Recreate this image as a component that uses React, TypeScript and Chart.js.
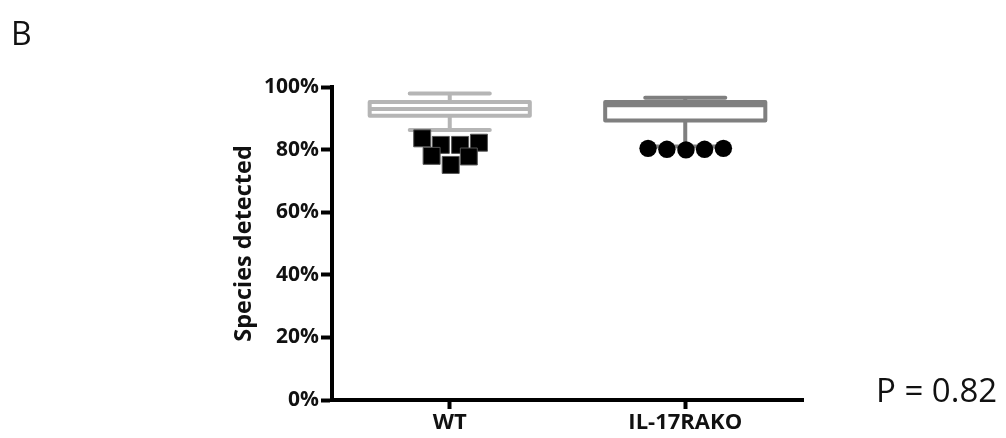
import React, { useEffect, useRef } from "react";
import { Chart, registerables } from "chart.js";

Chart.register(...registerables);

const categories = ["WT", "IL-17RAKO"];
const yTicks = [0, 20, 40, 60, 80, 100];
// box summary values (%) per category
const boxMin = [86.3, 81];
const boxQ1 = [90.8, 89.3];
const boxMedian = [93, 94.2];
const boxQ3 = [95.2, 95.2];
const boxMax = [97.9, 96.6];
const boxColors = ["#b5b5b5", "#7f7f7f"];
// outlier points: x = category index + jitter, y = %
const wtPointsX = [-0.117, -0.038, 0.044, 0.124, -0.077, 0.081, 0.004];
const wtPointsY = [83.6, 81.5, 81.5, 82.2, 78.0, 77.8, 75.1];
const koPointsX = [-0.158, -0.078, 0.003, 0.082, 0.162];
const koPointsY = [80.4, 80.1, 79.9, 80.1, 80.4];

const boxPlugin = {
  id: "boxes",
  beforeDatasetsDraw(chart: any) {
    const { ctx, scales } = chart;
    const xs = scales.x;
    const ys = scales.y;
    categories.forEach((_, i) => {
      const cx = xs.getPixelForValue(i);
      const halfBox = xs.getPixelForValue(i + 0.34) - cx;
      const halfCap = xs.getPixelForValue(i + 0.17) - cx;
      const yMin = ys.getPixelForValue(boxMin[i]);
      const yQ1 = ys.getPixelForValue(boxQ1[i]);
      const yMed = ys.getPixelForValue(boxMedian[i]);
      const yQ3 = ys.getPixelForValue(boxQ3[i]);
      const yMax = ys.getPixelForValue(boxMax[i]);
      ctx.save();
      ctx.strokeStyle = boxColors[i];
      ctx.lineWidth = 4;
      ctx.lineJoin = "round";
      ctx.lineCap = "round";
      ctx.beginPath();
      ctx.rect(cx - halfBox, yQ3, halfBox * 2, yQ1 - yQ3);
      ctx.moveTo(cx - halfBox, yMed);
      ctx.lineTo(cx + halfBox, yMed);
      ctx.moveTo(cx, yQ3);
      ctx.lineTo(cx, yMax);
      ctx.moveTo(cx - halfCap, yMax);
      ctx.lineTo(cx + halfCap, yMax);
      ctx.moveTo(cx, yQ1);
      ctx.lineTo(cx, yMin);
      ctx.moveTo(cx - halfCap, yMin);
      ctx.lineTo(cx + halfCap, yMin);
      ctx.stroke();
      ctx.restore();
    });
  },
};

export default function App() {
  const ref = useRef<HTMLCanvasElement | null>(null);
  useEffect(() => {
    if (!ref.current) return;
    const font = "'Open Sans'";
    const chart = new Chart(ref.current, {
      type: "scatter",
      data: {
        datasets: [
          {
            data: wtPointsX.map((x, i) => ({ x, y: wtPointsY[i] })),
            pointStyle: "rect",
            pointRadius: 12,
            backgroundColor: "#000",
            borderColor: "#555",
            borderWidth: 1,
          },
          {
            data: koPointsX.map((x, i) => ({ x: x + 1, y: koPointsY[i] })),
            pointStyle: "circle",
            pointRadius: 8.7,
            backgroundColor: "#000",
            borderColor: "#000",
            borderWidth: 0,
          },
        ],
      },
      options: {
        animation: false,
        responsive: true,
        maintainAspectRatio: false,
        layout: { padding: { top: 87, right: 203, left: 230, bottom: 0 } },
        plugins: { legend: { display: false }, tooltip: { enabled: false } },
        scales: {
          x: {
            type: "linear",
            min: -0.5,
            max: 1.5,
            afterBuildTicks: (s: any) => {
              s.ticks = categories.map((_, i) => ({ value: i }));
            },
            afterFit: (s: any) => {
              s.height = 38;
            },
            ticks: {
              callback: (v: any) => categories[v as number] ?? "",
              color: "#111",
              font: { family: font, size: 22, weight: "bold" },
              padding: 1,
              maxRotation: 0,
            },
            grid: {
              drawOnChartArea: false,
              tickLength: 9,
              tickWidth: 4,
              tickColor: "#000",
            },
            border: { display: true, color: "#000", width: 4 },
          },
          y: {
            min: 0,
            max: 100,
            afterBuildTicks: (s: any) => {
              s.ticks = yTicks.map((v) => ({ value: v }));
            },
            afterFit: (s: any) => {
              s.width = 102;
            },
            ticks: {
              callback: (v: any) => v + "%",
              color: "#111",
              font: { family: font, size: 21, weight: "bold" },
              padding: 2,
            },
            grid: {
              drawOnChartArea: false,
              tickLength: 11,
              tickWidth: 4,
              tickColor: "#000",
            },
            border: { display: true, color: "#000", width: 4 },
            title: {
              display: true,
              text: "Species detected",
              color: "#111",
              font: { family: font, size: 23.5, weight: "bold" },
              padding: { top: 0, bottom: 0 },
            },
          },
        },
      },
      plugins: [boxPlugin],
    });
    return () => chart.destroy();
  }, []);

  return (
    <div style={{ position: "absolute", left: 0, top: 0, width: 1006, height: 438, background: "#fff" }}>
      <div style={{ position: "absolute", inset: 0 }}>
        <canvas ref={ref} />
      </div>
      <div style={{ position: "absolute", left: 11, top: 11, fontFamily: "'Open Sans'", fontSize: 32, color: "#111" }}>B</div>
      <div style={{ position: "absolute", left: 876, top: 367, fontFamily: "'Open Sans'", fontSize: 33, color: "#111", whiteSpace: "nowrap" }}>P = 0.82</div>
    </div>
  );
}
